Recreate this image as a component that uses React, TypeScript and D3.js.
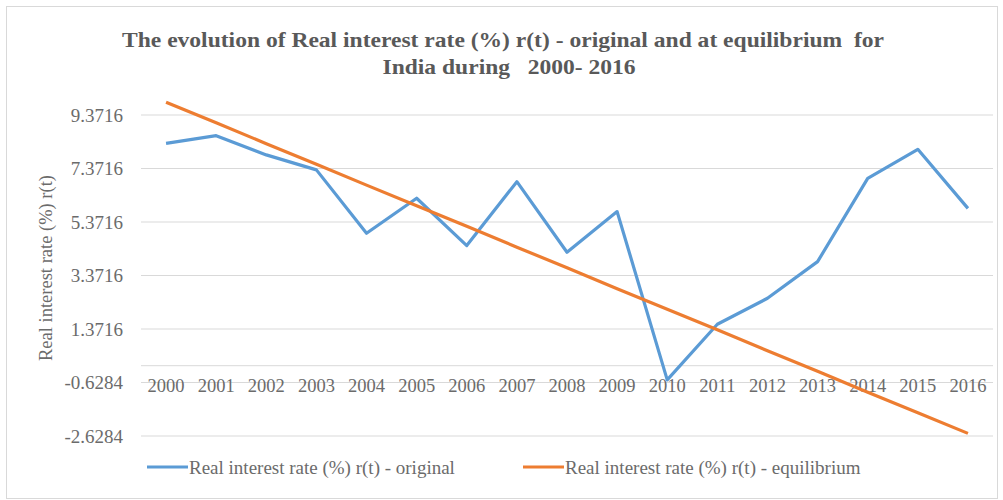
import React from "react";
import * as d3 from "d3";

const years = ["2000","2001","2002","2003","2004","2005","2006","2007","2008","2009","2010","2011","2012","2013","2014","2015","2016"];
const original = [8.31, 8.60, 7.88, 7.32, 4.95, 6.26, 4.49, 6.88, 4.24, 5.76, -0.53, 1.55, 2.52, 3.89, 7.00, 8.09, 5.88];
const equilibrium = [9.85, 9.08, 8.30, 7.53, 6.75, 5.98, 5.21, 4.43, 3.66, 2.88, 2.11, 1.34, 0.56, -0.21, -0.99, -1.76, -2.53];
const yTicks = [9.3716, 7.3716, 5.3716, 3.3716, 1.3716, -0.6284, -2.6284];
const seriesNames = ["Real interest rate (%) r(t) - original", "Real interest rate (%) r(t) - equilibrium"];
const colors = ["#5B9BD5", "#ED7D31"];

export default function App() {
  const W = 1003, H = 500;
  const x = d3.scaleBand().domain(years).range([141, 993]);
  const y = d3.scaleLinear().domain([-2.6284, 9.3716]).range([436, 115]);
  const cx = (d: string) => (x(d) as number) + x.bandwidth() / 2;
  const line = d3.line<number>().x((_, i) => cx(years[i])).y(v => y(v));
  const font = "Liberation Serif";
  const tstyle = { fontFamily: "'Liberation Serif', 'DejaVu Serif', serif" };
  return (
    <svg width={W} height={H} style={{ position: "absolute", left: 0, top: 0 }}>
      <rect x={0} y={0} width={W} height={H} fill="#fff" />
      <rect x={6.5} y={6.5} width={991} height={492} fill="none" stroke="#d9d9d9" />
      <text x={503} y={47} textAnchor="middle" fontSize={22} fontWeight="bold" fill="#595959"
        textLength={762} lengthAdjust="spacingAndGlyphs" style={{ ...tstyle, whiteSpace: "pre" }}>
        {"The evolution of Real interest rate (%) r(t) - original and at equilibrium  for"}
      </text>
      <text x={509} y={74} textAnchor="middle" fontSize={22} fontWeight="bold" fill="#595959"
        textLength={253} lengthAdjust="spacingAndGlyphs" style={{ ...tstyle, whiteSpace: "pre" }}>
        {"India during   2000- 2016"}
      </text>
      {yTicks.map(t => (
        <g key={t}>
          <line x1={141} x2={993} y1={y(t)} y2={y(t)} stroke="#d9d9d9" strokeWidth={1} />
          <text x={123} y={y(t)} dy="0.35em" textAnchor="end" fontSize={19} fill="#6b6b6b" fontFamily={font} style={tstyle}>
            {t.toFixed(4)}
          </text>
        </g>
      ))}
      <line x1={141} x2={993} y1={y(0)} y2={y(0)} stroke="#d9d9d9" strokeWidth={1} />
      {years.map(yr => (
        <text key={yr} x={cx(yr)} y={392} textAnchor="middle" fontSize={18.5} fill="#6b6b6b" fontFamily={font} style={tstyle}>{yr}</text>
      ))}
      <text transform={`translate(52,268) rotate(-90)`} textAnchor="middle" fontSize={18.5} fill="#6b6b6b" fontFamily={font} style={tstyle}>
        Real interest rate (%) r(t)
      </text>
      <path d={line(original) || ""} fill="none" stroke={colors[0]} strokeWidth={3.2} strokeLinejoin="round" />
      <path d={line(equilibrium) || ""} fill="none" stroke={colors[1]} strokeWidth={3.2} strokeLinejoin="round" />
      {seriesNames.map((n, i) => {
        const lx = i === 0 ? 147 : 523;
        return (
          <g key={n}>
            <line x1={lx} x2={lx + 41} y1={467} y2={467} stroke={colors[i]} strokeWidth={3.2} />
            <text x={lx + 42} y={467} dy="0.35em" fontSize={19} fill="#6b6b6b" fontFamily={font} style={tstyle}>{n}</text>
          </g>
        );
      })}
    </svg>
  );
}
